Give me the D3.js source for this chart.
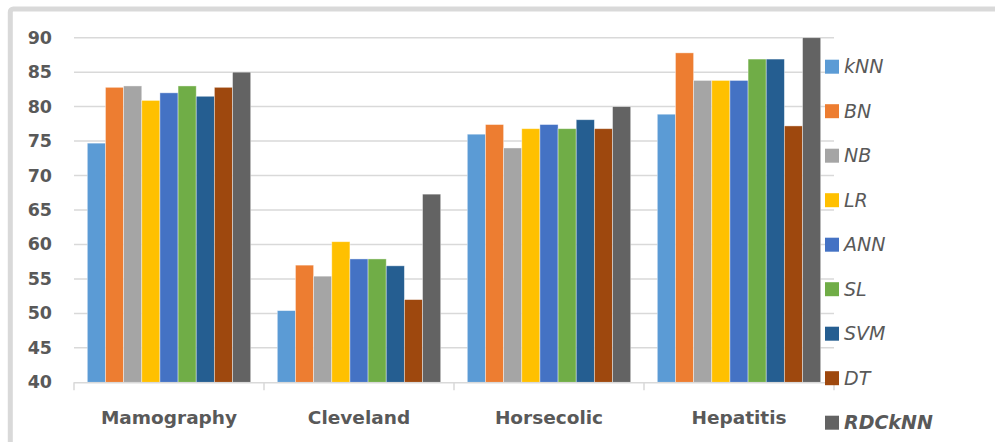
<!DOCTYPE html>
<html>
<head>
<meta charset="utf-8">
<script src="https://cdn.jsdelivr.net/npm/d3@7"></script>
<style>
  body { margin: 0; background: #fff; }
  svg { display: block; }
</style>
</head>
<body>
<svg id="chart" width="995" height="442"></svg>
<script>
var categories = ['Mamography', 'Cleveland', 'Horsecolic', 'Hepatitis'];
var series = ['kNN', 'BN', 'NB', 'LR', 'ANN', 'SL', 'SVM', 'DT', 'RDCkNN'];
var colors = ['#5B9BD5', '#ED7D31', '#A5A5A5', '#FFC000', '#4472C4', '#70AD47', '#255E91', '#9E480E', '#636363'];

// one row per category, in series order
var mamography = [74.7, 82.8, 83.0, 80.9, 82.0, 83.0, 81.5, 82.8, 85.0];
var cleveland  = [50.4, 57.0, 55.4, 60.4, 57.9, 57.9, 56.9, 52.0, 67.3];
var horsecolic = [76.0, 77.4, 74.0, 76.8, 77.4, 76.8, 78.1, 76.8, 80.0];
var hepatitis  = [78.9, 87.8, 83.8, 83.8, 83.8, 86.9, 86.9, 77.2, 90.0];
var values = [mamography, cleveland, horsecolic, hepatitis];

var yTicks = [40, 45, 50, 55, 60, 65, 70, 75, 80, 85, 90];

var svg = d3.select('#chart');
var plotLeft = 74, plotRight = 834, plotTop = 37.7, plotBottom = 382.3;

// chart frame (only top and left edges visible)
svg.append('rect')
  .attr('x', 10.3).attr('y', 9)
  .attr('width', 1100).attr('height', 600)
  .attr('rx', 3)
  .attr('fill', 'none')
  .attr('stroke', '#d9d9d9')
  .attr('stroke-width', 5);

var x0 = d3.scaleBand().domain(categories).range([plotLeft, plotRight]).padding(0);
var x1 = d3.scaleBand().domain(series).range([0, x0.bandwidth()])
  .paddingInner(0).paddingOuter(0.733);
var y = d3.scaleLinear().domain([40, 90]).range([plotBottom, plotTop]);
var color = d3.scaleOrdinal().domain(series).range(colors);

// gridlines
svg.append('g')
  .selectAll('line')
  .data(yTicks.slice(1))
  .enter()
  .append('line')
  .attr('x1', plotLeft).attr('x2', plotRight)
  .attr('y1', function (d) { return y(d); })
  .attr('y2', function (d) { return y(d); })
  .attr('stroke', '#d9d9d9')
  .attr('stroke-width', 1.5);

// y labels
svg.append('g')
  .selectAll('text')
  .data(yTicks)
  .enter()
  .append('text')
  .attr('x', 52)
  .attr('y', function (d) { return y(d) + 1; })
  .attr('text-anchor', 'end')
  .attr('dominant-baseline', 'middle')
  .attr('font-family', 'DejaVu Sans')
  .attr('font-weight', 'bold')
  .attr('font-size', '17.5px')
  .attr('fill', '#595959')
  .text(function (d) { return d; });

// bars
var groups = svg.append('g')
  .selectAll('g')
  .data(categories)
  .enter()
  .append('g')
  .attr('transform', function (d) { return 'translate(' + x0(d) + ',0)'; });

groups.selectAll('rect')
  .data(function (d, i) {
    return series.map(function (s, j) { return { key: s, value: values[i][j] }; });
  })
  .enter()
  .append('rect')
  .attr('x', function (d) { return x1(d.key); })
  .attr('y', function (d) { return y(d.value); })
  .attr('width', x1.bandwidth())
  .attr('height', function (d) { return plotBottom - y(d.value); })
  .attr('fill', function (d) { return color(d.key); })
  .attr('stroke', '#ffffff')
  .attr('stroke-opacity', 0.5)
  .attr('stroke-width', 0.8);

// x axis line + ticks at category boundaries
svg.append('line')
  .attr('x1', plotLeft).attr('x2', plotRight)
  .attr('y1', plotBottom + 0.5).attr('y2', plotBottom + 0.5)
  .attr('stroke', '#d9d9d9')
  .attr('stroke-width', 1.5);

var bounds = categories.map(function (c) { return x0(c); }).concat([plotRight]);
svg.append('g')
  .selectAll('line')
  .data(bounds)
  .enter()
  .append('line')
  .attr('x1', function (d) { return d; })
  .attr('x2', function (d) { return d; })
  .attr('y1', plotBottom).attr('y2', plotBottom + 8)
  .attr('stroke', '#d9d9d9')
  .attr('stroke-width', 1.5);

// category labels
svg.append('g')
  .selectAll('text')
  .data(categories)
  .enter()
  .append('text')
  .attr('x', function (d) { return x0(d) + x0.bandwidth() / 2; })
  .attr('y', 424)
  .attr('text-anchor', 'middle')
  .attr('font-family', 'DejaVu Sans')
  .attr('font-weight', 'bold')
  .attr('font-size', '18.5px')
  .attr('fill', '#595959')
  .text(function (d) { return d; });

// legend
var legend = svg.append('g')
  .selectAll('g')
  .data(series)
  .enter()
  .append('g')
  .attr('transform', function (d, i) { return 'translate(825,' + (66.7 + i * 44.5) + ')'; });

legend.append('rect')
  .attr('x', 0).attr('y', -7)
  .attr('width', 14).attr('height', 14)
  .attr('fill', function (d) { return color(d); });

legend.append('text')
  .attr('x', 19)
  .attr('y', 1)
  .attr('dominant-baseline', 'middle')
  .attr('font-family', 'DejaVu Sans')
  .attr('font-style', 'italic')
  .attr('font-weight', function (d) { return d === 'RDCkNN' ? 'bold' : 'normal'; })
  .attr('font-size', '19px')
  .attr('fill', '#595959')
  .text(function (d) { return d; });
</script>
</body>
</html>
